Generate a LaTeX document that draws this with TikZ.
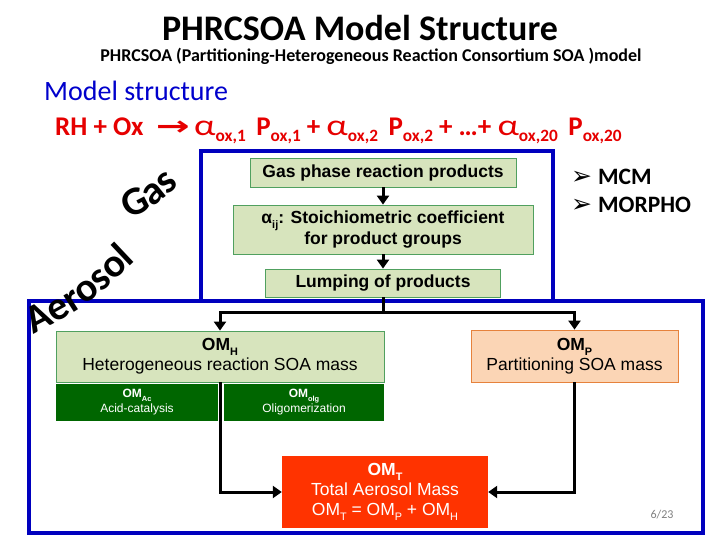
\documentclass[tikz,border=0pt]{standalone}
\usepackage{fontspec}
\usepackage{graphicx}
\setmainfont{Liberation Sans}
\newfontfamily\calib{Carlito}
\newfontfamily\dejavu{DejaVu Sans}
\usetikzlibrary{arrows.meta,decorations.text}
\definecolor{frameblue}{RGB}{0,0,190}
\definecolor{lightgreen}{RGB}{215,228,189}
\definecolor{boxgreen}{RGB}{80,160,95}
\definecolor{darkgreen}{RGB}{0,102,0}
\definecolor{peach}{RGB}{251,213,181}
\definecolor{peachborder}{RGB}{230,130,60}
\definecolor{omtred}{RGB}{255,51,0}
\definecolor{eqred}{RGB}{230,0,0}
\definecolor{titleblue}{RGB}{0,0,204}
\newcommand{\mysub}[1]{\raisebox{-0.28em}{\scalebox{0.62}{#1}}}
\newcommand{\eqsub}[1]{\raisebox{-0.22em}{\scalebox{0.64}{#1}}}
\newcommand{\eqalpha}{\scalebox{1.4}[1.1]{\mdseries α}}
\tikzset{
  lgbox/.style={draw=boxgreen, line width=0.8pt, fill=lightgreen, inner sep=0pt, align=center},
  dgbox/.style={fill=darkgreen, inner sep=0pt, align=center, text=white},
  conn/.style={line width=3pt, -{Triangle[length=9pt,width=12pt]}},
  plainconn/.style={line width=3pt},
  frameline/.style={draw=frameblue, line width=3.5pt},
  boldarial/.style={font=\bfseries\fontsize{17.5}{21}\selectfont},
  arial/.style={font=\fontsize{17.5}{20}\selectfont},
}
\begin{document}
\begin{tikzpicture}[x=1pt,y=-1pt]
\useasboundingbox[fill=white] (0,0) rectangle (720,540);

% titles
\node[anchor=base, font=\calib\bfseries\fontsize{36}{36}\selectfont] (title) at (360,41) {PHRCSOA Model Structure};
\node[anchor=base, font=\calib\bfseries\fontsize{18}{18}\selectfont] (subtitle) at (371,62) {PHRCSOA (Partitioning-Heterogeneous Reaction Consortium SOA )model};
\node[anchor=base west, inner sep=0pt, text=titleblue, font=\calib\fontsize{28}{28}\selectfont] (ms) at (44,101) {Model structure};
\node[anchor=base west, inner sep=0pt, text=eqred, font=\calib\bfseries\fontsize{27}{27}\selectfont] (eq) at (55,136)
  {RH + Ox\ \ \scalebox{1.5}[1]{\dejavu →}\,\eqalpha\eqsub{ox,1}\, P\eqsub{ox,1} + \eqalpha\eqsub{ox,2}\, P\eqsub{ox,2} + …+ \eqalpha\eqsub{ox,20}\, P\eqsub{ox,20}};

% frames
\draw[frameline] (29,301) rectangle (703,533);
\draw[frameline] (201,301) -- (201,151) -- (553,151) -- (553,301);

% rotated words
\path[decorate, decoration={text along path, text align=center,
  text={|\calib\bfseries\fontsize{40}{40}\selectfont|Gas}}]
  (116,225) .. controls (150,211) .. (190,175);
\path[decorate, decoration={text along path, text align=center,
  text={|\calib\bfseries\fontsize{40}{40}\selectfont|Aerosol}}]
  (26,338) .. controls (88,306) .. (142,255);

% gas phase boxes
\node[lgbox, boldarial, minimum width=266pt, minimum height=29pt] (gasp) at (383,172.5) {Gas phase reaction products};
\node[lgbox, boldarial, minimum width=300pt, minimum height=49pt] (alpha) at (383,229.5)
  {α\mysub{ij}: Stoichiometric coefficient\\for product groups};
\node[lgbox, boldarial, minimum width=235pt, minimum height=28pt] (lump) at (383,283) {Lumping of products};

% mechanisms
\node[anchor=west, inner sep=0pt, font=\calib\bfseries\fontsize{23.5}{23.5}\selectfont] (mcm) at (571,177)
  {\raisebox{0.02em}{\dejavu\fontsize{25}{25}\selectfont ➢}\hspace{6pt}MCM};
\node[anchor=west, inner sep=0pt, font=\calib\bfseries\fontsize{23.5}{23.5}\selectfont] (morpho) at (571,205)
  {\raisebox{0.02em}{\dejavu\fontsize{25}{25}\selectfont ➢}\hspace{6pt}MORPHO};

% aerosol boxes
\node[lgbox, arial, minimum width=328pt, minimum height=51pt] (omh) at (220,356.5)
  {{\bfseries OM\mysub{H}}\\Heterogeneous reaction SOA mass};
\node[dgbox, font=\fontsize{12}{15}\selectfont, minimum width=162pt, minimum height=37pt] (omac) at (137,402.5)
  {{\bfseries OM\mysub{Ac}}\\Acid-catalysis};
\node[dgbox, font=\fontsize{12}{15}\selectfont, minimum width=160pt, minimum height=37pt] (omolg) at (304,402.5)
  {{\bfseries OM\mysub{olg}}\\Oligomerization};
\node[draw=peachborder, line width=0.8pt, fill=peach, inner sep=0pt, align=center, arial,
  minimum width=207pt, minimum height=52pt] (omp) at (574.5,356)
  {{\bfseries OM\mysub{P}}\\Partitioning SOA mass};
\node[fill=omtred, text=white, inner sep=0pt, align=center, arial,
  minimum width=206pt, minimum height=72pt] (omt) at (385,492)
  {{\bfseries OM\mysub{T}}\\Total Aerosol Mass\\OM\mysub{T} = OM\mysub{P} + OM\mysub{H}};

\node[text=gray, font=\calib\fontsize{12}{12}\selectfont] (page) at (662,515) {6/23};

% connectors
\coordinate (j) at (383,312);
\draw[conn] (gasp) -- (alpha);
\draw[conn] (alpha) -- (lump);
\draw[plainconn] (lump.south) -- (j);
\draw[conn] (j) -| (omh.north);
\draw[conn] (j) -| (omp.north);
\draw[conn] (omh.south) |- (omt.west);
\draw[conn] (omp.south) |- (omt.east);
\end{tikzpicture}
\end{document}
